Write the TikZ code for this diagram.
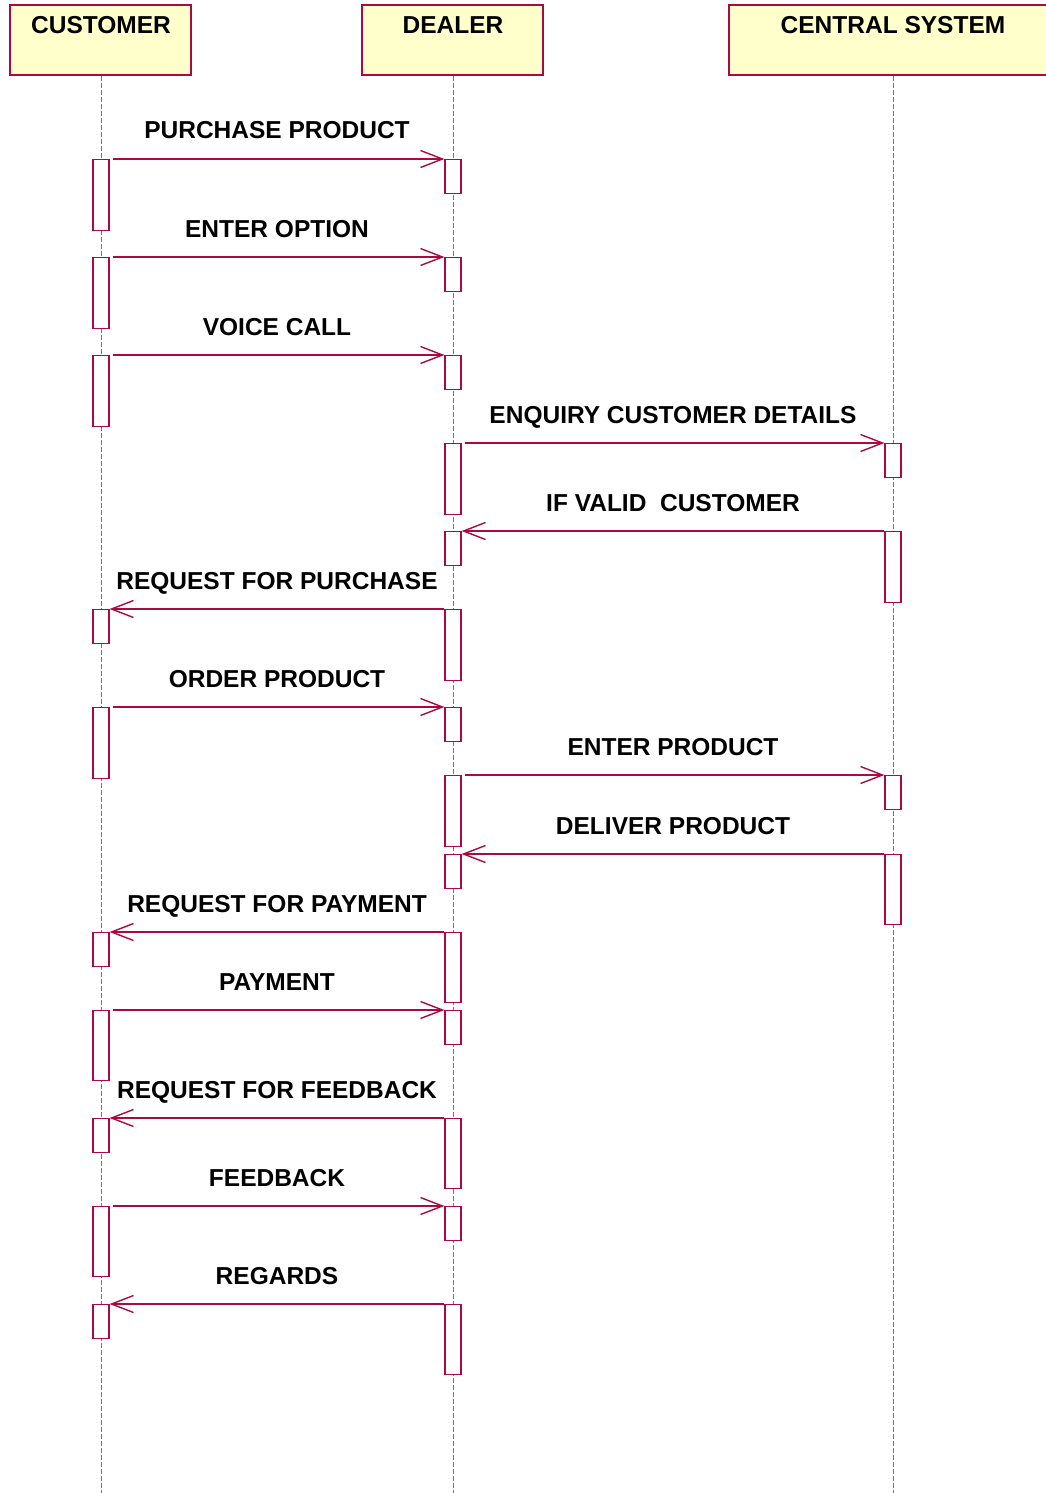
\documentclass[tikz,border=0pt]{standalone}
\usepackage{fontspec}
\setmainfont{Liberation Sans}
\usetikzlibrary{arrows.meta}
\definecolor{crim}{RGB}{170,10,65}
\definecolor{hdrfill}{RGB}{255,255,204}
\definecolor{lifec}{RGB}{120,120,120}
\tikzset{
  hdr/.style={draw=crim, fill=hdrfill, line width=1.1pt, inner sep=0pt, minimum height=70pt},
  hdrtext/.style={anchor=base, font=\fontsize{24.5}{28}\selectfont\bfseries, inner sep=0pt},
  life/.style={draw=lifec, line width=0.8pt, dash pattern=on 5pt off 2pt},
  act/.style={draw=crim, fill=white, line width=1.1pt, minimum width=16pt, minimum height=#1pt, inner sep=0pt, anchor=north},
  msg/.style={draw=crim, line width=1.1pt, -{Straight Barb[length=22pt, width=17pt, line width=1.4pt]}},
  msgr/.style={msg, shorten <=3pt},
  lbl/.style={midway, anchor=base, yshift=20pt, inner sep=0pt, text=black, font=\fontsize{24.5}{28}\selectfont\bfseries}
}
\begin{document}
\begin{tikzpicture}[x=1pt, y=-1pt]
\useasboundingbox (0,0) rectangle (1046,1493);
\clip (0,0) rectangle (1046,1493);
% headers
\node[hdr, minimum width=181pt] (hc) at (100.5,40) {};
\node[hdr, minimum width=181pt] (hd) at (452.5,40) {};
\node[hdr, minimum width=328pt] (hs) at (893,40) {};
\node[hdrtext] (tc) at (101,34) {CUSTOMER};
\node[hdrtext] (td) at (453,34) {DEALER};
\node[hdrtext] (ts) at (893,34) {CENTRAL SYSTEM};
% lifelines
\coordinate (ec) at (101,1493);
\coordinate (ed) at (453,1493);
\coordinate (es) at (893,1493);
\draw[life] (hc.south -| ec) -- (ec);
\draw[life] (hd.south -| ed) -- (ed);
\draw[life] (hs.south -| es) -- (es);
% activations: customer
\node[act=71] (c1) at (101,159) {};
\node[act=71] (c2) at (101,257) {};
\node[act=71] (c3) at (101,355) {};
\node[act=34] (c6) at (101,609) {};
\node[act=71] (c7) at (101,707) {};
\node[act=34] (c10) at (101,932) {};
\node[act=70] (c11) at (101,1010) {};
\node[act=34] (c12) at (101,1118) {};
\node[act=70] (c13) at (101,1206) {};
\node[act=34] (c14) at (101,1304) {};
% activations: dealer
\node[act=34] (d1) at (453,159) {};
\node[act=34] (d2) at (453,257) {};
\node[act=34] (d3) at (453,355) {};
\node[act=71] (d4) at (453,443) {};
\node[act=34] (d5) at (453,531) {};
\node[act=71] (d6) at (453,609) {};
\node[act=34] (d7) at (453,707) {};
\node[act=71] (d8) at (453,775) {};
\node[act=34] (d9) at (453,854) {};
\node[act=70] (d10) at (453,932) {};
\node[act=34] (d11) at (453,1010) {};
\node[act=70] (d12) at (453,1118) {};
\node[act=34] (d13) at (453,1206) {};
\node[act=70] (d14) at (453,1304) {};
% activations: central system
\node[act=34] (s4) at (893,443) {};
\node[act=71] (s5) at (893,531) {};
\node[act=34] (s8) at (893,775) {};
\node[act=70] (s9) at (893,854) {};
% messages
\draw[msgr] (c1.north east) -- node[lbl] (m1) {PURCHASE PRODUCT} (d1.north west);
\draw[msgr] (c2.north east) -- node[lbl] (m2) {ENTER OPTION} (d2.north west);
\draw[msgr] (c3.north east) -- node[lbl] (m3) {VOICE CALL} (d3.north west);
\draw[msgr] (d4.north east) -- node[lbl] (m4) {ENQUIRY CUSTOMER DETAILS} (s4.north west);
\draw[msg] (s5.north west) -- node[lbl] (m5) {IF VALID\ \ CUSTOMER} (d5.north east);
\draw[msg] (d6.north west) -- node[lbl] (m6) {REQUEST FOR PURCHASE} (c6.north east);
\draw[msgr] (c7.north east) -- node[lbl] (m7) {ORDER PRODUCT} (d7.north west);
\draw[msgr] (d8.north east) -- node[lbl] (m8) {ENTER PRODUCT} (s8.north west);
\draw[msg] (s9.north west) -- node[lbl] (m9) {DELIVER PRODUCT} (d9.north east);
\draw[msg] (d10.north west) -- node[lbl] (m10) {REQUEST FOR PAYMENT} (c10.north east);
\draw[msgr] (c11.north east) -- node[lbl] (m11) {PAYMENT} (d11.north west);
\draw[msg] (d12.north west) -- node[lbl] (m12) {REQUEST FOR FEEDBACK} (c12.north east);
\draw[msgr] (c13.north east) -- node[lbl] (m13) {FEEDBACK} (d13.north west);
\draw[msg] (d14.north west) -- node[lbl] (m14) {REGARDS} (c14.north east);
\end{tikzpicture}
\end{document}
